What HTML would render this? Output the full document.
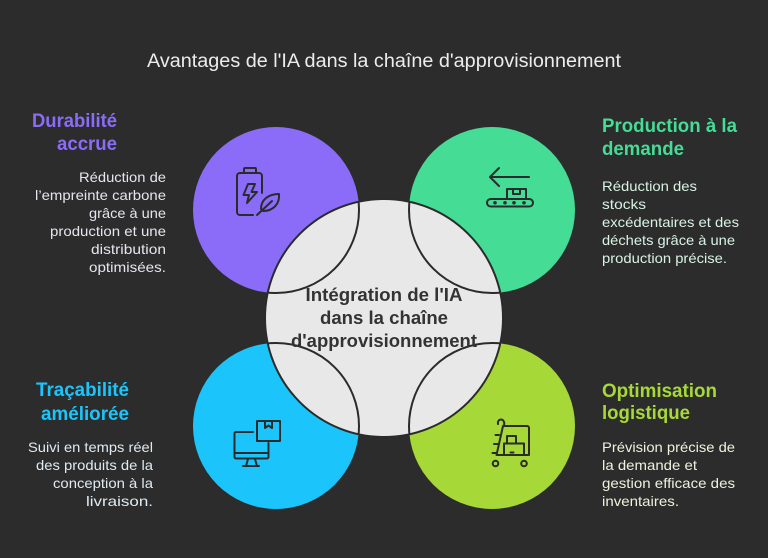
<!DOCTYPE html>
<html>
<head>
<meta charset="utf-8">
<style>
html,body{margin:0;padding:0;background:#2c2c2c;}
svg{display:block;}
text{font-family:"Liberation Sans",Arial,sans-serif;}
</style>
</head>
<body>
<svg width="768" height="558" viewBox="0 0 768 558" xmlns="http://www.w3.org/2000/svg">
<rect width="768" height="558" fill="#2c2c2c"/>
<defs>
<clipPath id="cc"><circle cx="384" cy="318" r="118.5"/></clipPath>
</defs>

<!-- title -->
<text x="147" y="67" font-size="19" fill="#ececec" textLength="474" lengthAdjust="spacingAndGlyphs">Avantages de l'IA dans la chaîne d'approvisionnement</text>

<!-- satellites -->
<circle cx="276" cy="210" r="83" fill="#8b6cf8"/>
<circle cx="492" cy="210" r="83" fill="#45dc95"/>
<circle cx="276" cy="426" r="83" fill="#1bc5fb"/>
<circle cx="492" cy="426" r="83" fill="#a6d938"/>

<!-- center -->
<circle cx="384" cy="318" r="119" fill="#e8e8e8" stroke="#2b2b2b" stroke-width="2"/>
<g clip-path="url(#cc)" fill="none" stroke="#2b2b2b" stroke-width="2">
<circle cx="276" cy="210" r="83"/>
<circle cx="492" cy="210" r="83"/>
<circle cx="276" cy="426" r="83"/>
<circle cx="492" cy="426" r="83"/>
</g>

<g font-weight="bold" font-size="18" fill="#333333" text-anchor="middle">
<text x="384" y="301" textLength="157" lengthAdjust="spacingAndGlyphs">Intégration de l'IA</text>
<text x="384" y="324" textLength="128" lengthAdjust="spacingAndGlyphs">dans la chaîne</text>
<text x="384" y="347" textLength="186" lengthAdjust="spacingAndGlyphs">d'approvisionnement</text>
</g>

<!-- icons -->
<g fill="none" stroke="#2b2b2b" stroke-width="2" stroke-linecap="round" stroke-linejoin="round">
<!-- battery + leaf -->
<rect x="244" y="168" width="12" height="5" rx="1"/>
<path d="M262 193 V176 a3 3 0 0 0 -3 -3 H240 a3 3 0 0 0 -3 3 V212 a3 3 0 0 0 3 3 H253"/>
<path d="M248 184 L243.5 195 H249 L247 203 L257 192 H251.5 L255 184 Z"/>
<path d="M261 209 C261 200 268 194 279 194 C280 204 273 211 263 211"/>
<path d="M257 215 L272 201"/>
<!-- conveyor -->
<path d="M529 177 H490 M499 168 L490 177 L499 186"/>
<rect x="507" y="189" width="19" height="10"/>
<path d="M513 189 V194 H520 V189"/>
<rect x="487" y="199" width="46" height="7.5" rx="3.75"/>
<circle cx="495" cy="202.75" r="0.8" fill="#2b2b2b"/>
<circle cx="505" cy="202.75" r="0.8" fill="#2b2b2b"/>
<circle cx="514" cy="202.75" r="0.8" fill="#2b2b2b"/>
<circle cx="524" cy="202.75" r="0.8" fill="#2b2b2b"/>
<!-- monitor + box -->
<path d="M253 432 H236 a1.5 1.5 0 0 0 -1.5 1.5 V457 a1.5 1.5 0 0 0 1.5 1.5 H267 a1.5 1.5 0 0 0 1.5 -1.5 V443"/>
<path d="M234.5 453 H268.5"/>
<path d="M248 459 L246 466 M255 459 L257 466 M243 466 H259"/>
<rect x="257" y="421" width="23" height="20"/>
<path d="M265 421 V428 L268.5 425.5 L272 428 V421"/>
<!-- cart -->
<path d="M498 424 C497 419 503 418 504 422 C505 425 503 426 503 426 L496.5 455 H529 V428 a2 2 0 0 0 -2 -2 H504"/>
<path d="M499 435 H495.5 M497.5 444 H494 M496 453 H492.5"/>
<rect x="507" y="436" width="9" height="7.5"/>
<rect x="504" y="443.5" width="20" height="11.5"/>
<path d="M510.5 452.5 H513.5"/>
<circle cx="495.5" cy="463.5" r="2.8"/>
<circle cx="524" cy="463.5" r="2.8"/>
</g>

<!-- left top -->
<g font-weight="bold" font-size="19" fill="#8b6cf8" text-anchor="end">
<text x="117" y="127" textLength="85" lengthAdjust="spacingAndGlyphs">Durabilité</text>
<text x="117" y="150" textLength="60" lengthAdjust="spacingAndGlyphs">accrue</text>
</g>
<g font-size="14" fill="#e6e4ee" text-anchor="end">
<text x="166" y="182" textLength="87" lengthAdjust="spacingAndGlyphs">Réduction de</text>
<text x="166" y="200" textLength="131" lengthAdjust="spacingAndGlyphs">l’empreinte carbone</text>
<text x="166" y="218" textLength="77" lengthAdjust="spacingAndGlyphs">grâce à une</text>
<text x="166" y="236" textLength="116" lengthAdjust="spacingAndGlyphs">production et une</text>
<text x="166" y="254" textLength="75" lengthAdjust="spacingAndGlyphs">distribution</text>
<text x="166" y="272" textLength="77" lengthAdjust="spacingAndGlyphs">optimisées.</text>
</g>

<!-- right top -->
<g font-weight="bold" font-size="19" fill="#45dc95">
<text x="602" y="132" textLength="135" lengthAdjust="spacingAndGlyphs">Production à la</text>
<text x="602" y="155" textLength="82" lengthAdjust="spacingAndGlyphs">demande</text>
</g>
<g font-size="14" fill="#d8f2e4">
<text x="602" y="191" textLength="95" lengthAdjust="spacingAndGlyphs">Réduction des</text>
<text x="602" y="209" textLength="44" lengthAdjust="spacingAndGlyphs">stocks</text>
<text x="602" y="227" textLength="137" lengthAdjust="spacingAndGlyphs">excédentaires et des</text>
<text x="602" y="245" textLength="133" lengthAdjust="spacingAndGlyphs">déchets grâce à une</text>
<text x="602" y="263" textLength="125" lengthAdjust="spacingAndGlyphs">production précise.</text>
</g>

<!-- left bottom -->
<g font-weight="bold" font-size="19" fill="#1bc5fb" text-anchor="end">
<text x="129" y="396" textLength="93" lengthAdjust="spacingAndGlyphs">Traçabilité</text>
<text x="129" y="420" textLength="88" lengthAdjust="spacingAndGlyphs">améliorée</text>
</g>
<g font-size="14" fill="#dfeaf2" text-anchor="end">
<text x="153" y="452" textLength="125" lengthAdjust="spacingAndGlyphs">Suivi en temps réel</text>
<text x="153" y="470" textLength="117" lengthAdjust="spacingAndGlyphs">des produits de la</text>
<text x="153" y="488" textLength="100" lengthAdjust="spacingAndGlyphs">conception à la</text>
<text x="153" y="506" textLength="67" lengthAdjust="spacingAndGlyphs">livraison.</text>
</g>

<!-- right bottom -->
<g font-weight="bold" font-size="19" fill="#a6d938">
<text x="602" y="397" textLength="115" lengthAdjust="spacingAndGlyphs">Optimisation</text>
<text x="602" y="419" textLength="88" lengthAdjust="spacingAndGlyphs">logistique</text>
</g>
<g font-size="14" fill="#eef2dc">
<text x="602" y="452" textLength="133" lengthAdjust="spacingAndGlyphs">Prévision précise de</text>
<text x="602" y="470" textLength="95" lengthAdjust="spacingAndGlyphs">la demande et</text>
<text x="602" y="488" textLength="133" lengthAdjust="spacingAndGlyphs">gestion efficace des</text>
<text x="602" y="506" textLength="77" lengthAdjust="spacingAndGlyphs">inventaires.</text>
</g>
</svg>
</body>
</html>
